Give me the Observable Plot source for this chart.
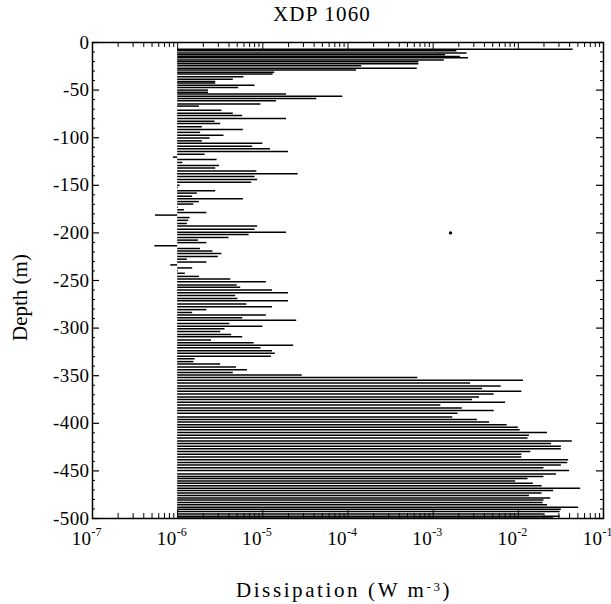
<!DOCTYPE html>
<html><head><meta charset="utf-8">
<script src="https://cdn.jsdelivr.net/npm/d3@7"></script>
<script src="https://cdn.jsdelivr.net/npm/@observablehq/plot@0.6"></script>
<style>
html,body{margin:0;padding:0;background:#fff;}
#chart{width:611px;height:604px;}
#chart svg text{font-family:'Liberation Serif','Times New Roman',serif;}
</style></head><body><div id="chart"></div>
<script>
const title = "XDP 1060";
const xLabel = "Dissipation (W m";
const xLabelExp = "-3";
const xLabelEnd = ")";
const yLabel = "Depth (m)";
const baseline = 1e-6;

const depth = [
-7.1,-8.7,-11.0,-12.9,-14.8,-16.1,-18.4,-20.3,-22.3,-24.5,-27.1,-29.0,-31.3,-33.2,-36.1,-38.7,-41.0,-42.6,-44.8,-47.4,-50.0,-52.3,-54.0,-56.5,-58.7,-61.3,-64.5,-66.8,
-71.1,-74.3,-76.6,-79.9,-82.6,-85.2,-88.5,-91.4,-94.4,-97.4,-100.3,-103.3,-105.9,-108.9,-111.5,-114.5,-117.4,-120.4,-123.0,-126.0,-129.3,-131.9,-134.9,-137.8,-140.8,-143.8,-146.7,-150.0,-152.3,
-155.6,-158.2,-161.5,-164.1,-167.1,-169.7,-173.0,-175.7,-178.6,-181.3,-183.9,-186.8,-190.1,-192.8,-196.1,-199.3,-201.6,-204.9,-207.6,-210.2,-213.5,-216.4,-219.1,-221.7,-224.7,-227.6,-230.6,
-233.6,-236.8,-239.8,-242.4,-245.7,-248.4,-251.3,-254.6,-257.2,-259.9,-262.8,-265.8,-268.8,-271.4,-274.7,-277.6,-280.6,-283.6,-286.2,-289.1,-291.8,-295.1,-298.0,-300.7,-303.6,-306.6,-309.2,
-312.5,-315.5,-318.1,-320.7,-323.7,-326.3,-329.6,-332.2,-335.2,-337.8,-340.8,-343.8,-346.7,-349.3,-352.0,-354.9,-357.6,-360.9,-363.5,-366.4,-369.1,-372.4,-375.0,-378.0,-380.9,-383.9,-386.5,-389.5,
-393.5,-396.1,-398.7,-401.6,-404.2,-406.8,-409.7,-412.6,-415.5,-418.7,-421.3,-424.2,-426.8,-429.7,-432.6,-435.5,-438.4,-441.3,-443.9,-446.8,-449.7,
-453.2,-455.8,-458.1,-460.6,-462.9,-465.5,-468.1,-470.6,-473.2,-475.8,-478.4,-480.6,-483.2,-485.5,-488.1,-490.3,-492.6,-495.2,-497.7,-499.5
];

const dissipation = [
4.4e-2,1.9e-3,2.5e-3,1.4e-3,2.1e-3,2.6e-3,1.35e-3,6.8e-4,6.8e-4,1.45e-4,6.5e-4,1.26e-4,1.38e-5,1.32e-5,6.0e-6,4.5e-6,2.8e-6,2.8e-6,8.1e-6,5.2e-6,2.3e-6,2.3e-6,1.9e-5,8.7e-5,4.3e-5,1.45e-5,9.5e-6,1.8e-6,
3.3e-6,4.5e-6,5.8e-6,1.9e-5,2.75e-6,3.2e-6,1.95e-6,5.9e-6,1.86e-6,3.5e-6,2.4e-6,1.95e-6,1.0e-5,7.6e-6,1.23e-5,2.0e-5,2.1e-6,8.9e-7,2.9e-6,1.15e-6,3.1e-6,2.8e-6,8.5e-6,2.6e-5,8.1e-6,8.7e-6,7.4e-6,1.07e-6,1.02e-6,
2.8e-6,1.7e-6,1.5e-6,5.9e-6,1.8e-6,1.55e-6,1.02e-6,1.2e-6,2.2e-6,5.5e-7,1.4e-6,1.35e-6,1.3e-6,8.7e-6,8.1e-6,1.9e-5,6.9e-6,4.0e-6,1.75e-6,2.2e-6,5.4e-7,1.85e-6,2.6e-6,3.3e-6,3.0e-6,1.3e-6,2.2e-6,
8.3e-7,1.5e-6,1.02e-6,1.23e-6,1.8e-6,4.2e-6,1.1e-5,5.0e-6,5.5e-6,1.3e-5,2.0e-5,4.8e-6,5.1e-6,2.0e-5,6.5e-6,1.3e-5,2.2e-6,1.5e-6,1.1e-5,5.8e-6,2.5e-5,4.1e-6,1.0e-5,3.6e-6,3.2e-6,4.3e-6,5.8e-6,
2.5e-6,7.9e-6,2.3e-5,9.5e-6,1.3e-5,1.4e-5,1.26e-5,1.6e-6,1.55e-6,3.2e-6,4.9e-6,6.6e-6,4.5e-6,2.9e-5,6.6e-4,1.15e-2,2.75e-3,6.3e-3,3.8e-3,1.1e-2,5.2e-3,3.5e-3,2.9e-3,7.1e-3,1.23e-3,2.2e-3,5.2e-3,1.95e-3,
1.7e-3,3.3e-3,4.6e-3,7.4e-3,1.0e-2,1.05e-2,2.2e-2,1.35e-2,1.3e-2,4.3e-2,2.45e-2,3.2e-2,3.2e-2,1.4e-2,1.1e-2,1.1e-2,3.9e-2,3.8e-2,3.2e-2,2.0e-2,4.0e-2,
2.8e-2,2.0e-2,1.3e-2,9.3e-3,1.5e-2,1.9e-2,5.4e-2,2.6e-2,1.9e-2,1.35e-2,2.4e-2,2.0e-2,1.95e-2,2.2e-2,5.1e-2,3.2e-2,3.1e-2,2.0e-2,3.1e-2,2.6e-2
];

const speckDepth = [-200];
const speckValue = [1.6e-3];

const decadeTicks = [1e-7, 1e-6, 1e-5, 1e-4, 1e-3, 1e-2, 1e-1];
const decadeExponents = ["-7", "-6", "-5", "-4", "-3", "-2", "-1"];
const minorMultipliers = [2, 3, 4, 5, 6, 7, 8, 9];
const depthTicks = [0, -50, -100, -150, -200, -250, -300, -350, -400, -450, -500];
const depthTickLabels = ["0", "-50", "-100", "-150", "-200", "-250", "-300", "-350", "-400", "-450", "-500"];
const depthMinorStep = 10;

const W = 611, H = 604, mL = 92, mR = 8, mT = 42, mB = 86;
const innerW = W - mL - mR, innerH = H - mT - mB;

const rows = depth.map((d, i) => ({depth: d, value: dissipation[i]}));
const specks = speckDepth.map((d, i) => ({depth: d, value: speckValue[i]}));
const minorX = decadeTicks.slice(0, -1).flatMap(d => minorMultipliers.map(m => d * m));
const minorY = d3.range(-500, 0, depthMinorStep).filter(d => d % 50 !== 0);

const font = "Liberation Serif";

const plot = Plot.plot({
  width: W, height: H,
  marginLeft: mL, marginRight: mR, marginTop: mT, marginBottom: mB,
  style: {fontFamily: font, background: "white", color: "black", overflow: "visible"},
  x: {type: "log", domain: [1e-7, 1e-1], axis: null},
  y: {domain: [-500, 0], axis: null},
  marks: [
    Plot.ruleY(rows, {y: "depth", x1: () => baseline, x2: "value", stroke: "black", strokeWidth: 1.5}),
    Plot.dot(specks, {x: "value", y: "depth", r: 1.7, fill: "black", stroke: null}),
    Plot.tickX(decadeTicks, {x: d => d, insetTop: innerH - 8, stroke: "black", strokeWidth: 1}),
    Plot.tickX(minorX, {x: d => d, insetTop: innerH - 5, stroke: "black", strokeWidth: 1}),
    Plot.tickX(decadeTicks, {x: d => d, insetBottom: innerH - 8, stroke: "black", strokeWidth: 1}),
    Plot.tickX(minorX, {x: d => d, insetBottom: innerH - 5, stroke: "black", strokeWidth: 1}),
    Plot.tickY(depthTicks, {y: d => d, insetRight: innerW - 7, stroke: "black", strokeWidth: 1.2}),
    Plot.tickY(depthTicks, {y: d => d, insetLeft: innerW - 7, stroke: "black", strokeWidth: 1.2}),
    Plot.tickY(minorY, {y: d => d, insetRight: innerW - 3, stroke: "black", strokeWidth: 1}),
    Plot.tickY(minorY, {y: d => d, insetLeft: innerW - 3, stroke: "black", strokeWidth: 1}),
    Plot.frame({stroke: "black", strokeWidth: 1.5}),
    Plot.text(decadeTicks, {x: d => d, text: () => "10", frameAnchor: "bottom", lineAnchor: "middle", textAnchor: "end", dx: -1, dy: 20, fontSize: 19, fontFamily: font, fill: "black"}),
    Plot.text(decadeTicks, {x: d => d, text: (d, i) => decadeExponents[i], frameAnchor: "bottom", lineAnchor: "middle", textAnchor: "start", dx: -1, dy: 14, fontSize: 12, fontFamily: font, fill: "black"}),
    Plot.text(depthTicks, {y: d => d, text: (d, i) => depthTickLabels[i], frameAnchor: "left", lineAnchor: "middle", textAnchor: "end", dx: -3, fontSize: 19, fontFamily: font, fill: "black"}),
    Plot.text([title], {text: d => d, frameAnchor: "top", lineAnchor: "middle", textAnchor: "middle", dx: -26, dy: -28, fontSize: 21, fontFamily: font, fill: "black"}),
    Plot.text([yLabel], {text: d => d, frameAnchor: "left", lineAnchor: "middle", textAnchor: "middle", dx: -72, dy: 17, rotate: -90, fontSize: 21, fontFamily: font, fill: "black"}),
    Plot.text([xLabel], {text: d => d, frameAnchor: "bottom", lineAnchor: "middle", textAnchor: "middle", dx: -4, dy: 72, fontSize: 21, fontFamily: font, fill: "black"})
  ]
});

const texts = d3.select(plot).selectAll("text");
texts.filter(function() { return this.textContent === xLabel; }).each(function() {
  const t = d3.select(this).attr("letter-spacing", 2.6);
  t.append("tspan").attr("font-size", 13).attr("dy", "-0.5em").text(xLabelExp);
  t.append("tspan").attr("dy", "0.32em").text(xLabelEnd);
});
texts.filter(function() { return this.textContent === title; }).attr("letter-spacing", 1.2);
texts.filter(function() { return depthTickLabels.includes(this.textContent) || this.textContent === "10"; }).attr("letter-spacing", 0.4);

document.getElementById("chart").appendChild(plot);
</script>
</body></html>
